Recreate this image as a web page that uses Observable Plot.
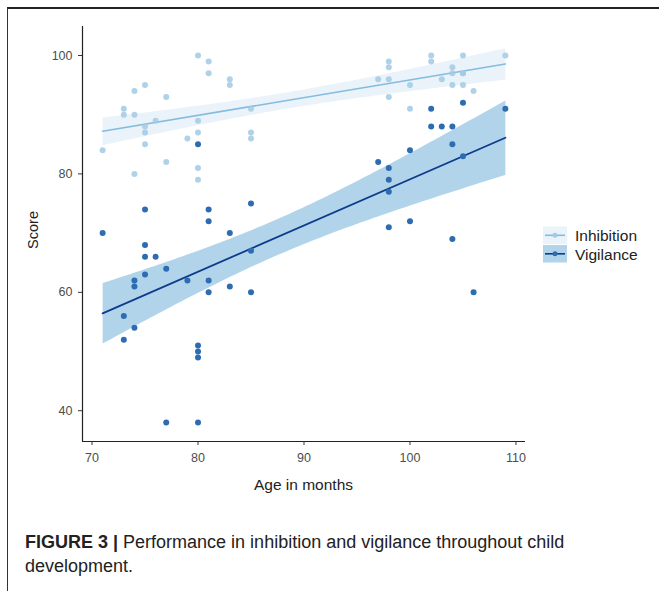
<!DOCTYPE html>
<html><head><meta charset="utf-8">
<script src="https://cdn.jsdelivr.net/npm/d3@7"></script>
<script src="https://cdn.jsdelivr.net/npm/@observablehq/plot@0.6"></script>
<style>
body{margin:0;background:#fff;}
#wrap{position:relative;width:659px;height:591px;overflow:hidden;font-family:"Liberation Sans",Arial,sans-serif;background:#fff;}
#frame{position:absolute;left:7px;top:7px;width:700px;height:700px;border-top:2px solid #222;border-left:1.5px solid #333;box-sizing:border-box;}
#chart{position:absolute;left:0;top:0;}
#caption{position:absolute;left:25px;top:530px;font-size:18px;line-height:24px;color:#222;white-space:nowrap;}
</style></head><body>
<div id="wrap">
<div id="frame"></div>
<div id="chart"></div>
<div id="caption"><b>FIGURE 3 |</b> Performance in inhibition and vigilance throughout child<br>development.</div>
</div>
<script>
// Inhibition scores by age (months)
const inhibitionAge   = [71,73,73,74,74,74,75,75,75,75,76,77,77,79,80,80,80,80,80,81,81,83,83,85,85,85,97,98,98,98,98,100,100,102,102,103,104,104,104,105,105,105,105,106,109];
const inhibitionScore = [84,91,90,94,90,80,95,88,87,85,89,93,82,86,100,89,87,81,79,99,97,96,95,91,87,86,96,99,98,96,93,95,91,100,99,96,98,97,95,100,97,97,95,94,100];
// Vigilance scores by age (months)
const vigilanceAge   = [71,73,73,74,74,74,75,75,75,75,76,77,77,79,80,80,80,80,80,81,81,81,81,83,83,85,85,85,97,98,98,98,98,100,100,102,102,103,104,104,104,105,105,106,109];
const vigilanceScore = [70,56,52,62,61,54,74,68,66,63,66,64,38,62,85,51,50,49,38,74,72,62,60,70,61,75,67,60,82,81,79,77,71,84,72,91,88,88,88,85,69,92,83,60,91];
const seriesNames = ["Inhibition","Vigilance"];
const xTicks = [70,80,90,100,110];
const yTicks = [40,60,80,100];
const xDomain = [69.1,110.9];
const yDomain = [34.8,104.9];

const colors = {
  Inhibition:{point:"#a2cae4", line:"#84bbdf", band:"#eaf3fa"},
  Vigilance:{point:"#2e6cb2", line:"#0c3c8c", band:"#b2d4ea"}
};

const inh = inhibitionAge.map((a,i)=>({age:a, score:inhibitionScore[i]}));
const vig = vigilanceAge.map((a,i)=>({age:a, score:vigilanceScore[i]}));

const plot = Plot.plot({
  width:659, height:500,
  marginLeft:82, marginRight:134, marginTop:26, marginBottom:59,
  style:{fontFamily:"'Liberation Sans', Arial, sans-serif", fontSize:"12.5px", color:"#4d4d4d", background:"transparent", overflow:"visible"},
  x:{domain:xDomain, label:null},
  y:{domain:yDomain, label:null},
  marks:[
    Plot.linearRegressionY(inh,{x:"age",y:"score",stroke:colors.Inhibition.line,strokeWidth:1.6,fill:colors.Inhibition.band,fillOpacity:1}),
    Plot.linearRegressionY(vig,{x:"age",y:"score",stroke:colors.Vigilance.line,strokeWidth:1.8,fill:colors.Vigilance.band,fillOpacity:1}),
    Plot.dot(inh,{x:"age",y:"score",r:3,fill:colors.Inhibition.point,fillOpacity:0.85}),
    Plot.dot(vig,{x:"age",y:"score",r:3,fill:colors.Vigilance.point}),
    Plot.ruleY([yDomain[0]],{stroke:"#222",strokeWidth:1.2}),
    Plot.ruleX([xDomain[0]],{stroke:"#222",strokeWidth:1.2}),
    Plot.axisX({ticks:xTicks, tickSize:4, tickPadding:8, stroke:"#333", fill:"#4d4d4d", label:null}),
    Plot.axisY({ticks:yTicks, tickSize:4, tickPadding:6, stroke:"#333", fill:"#4d4d4d", label:null})
  ]
});
document.getElementById("chart").appendChild(plot);

const svg = d3.select(plot);
const ff = "'Liberation Sans', Arial, sans-serif";
svg.append("text").attr("x",303.5).attr("y",489.5).attr("text-anchor","middle")
  .attr("font-family",ff).attr("font-size","15.5px").attr("fill","#222").text("Age in months");
svg.append("text").attr("transform","translate(33,230) rotate(-90)").attr("text-anchor","middle").attr("dy","0.35em")
  .attr("font-family",ff).attr("font-size","14.5px").attr("fill","#222").text("Score");

// legend
const leg = svg.append("g").attr("text-anchor","start");
const keyY = [226.5, 245];
seriesNames.forEach((name,i)=>{
  const c = colors[name];
  const y0 = keyY[i];
  leg.append("rect").attr("x",543).attr("y",y0).attr("width",24).attr("height",17.5).attr("fill",c.band);
  leg.append("line").attr("x1",545).attr("x2",565).attr("y1",y0+8.8).attr("y2",y0+8.8).attr("stroke",c.line).attr("stroke-width",1.6);
  leg.append("circle").attr("cx",555).attr("cy",y0+8.8).attr("r",2.5).attr("fill",c.point);
  leg.append("text").attr("x",575).attr("y",y0+9.5).attr("dy","0.35em").attr("text-anchor","start").attr("font-family",ff).attr("font-size","15.5px").attr("fill","#222").text(name);
});
</script>
</body></html>
